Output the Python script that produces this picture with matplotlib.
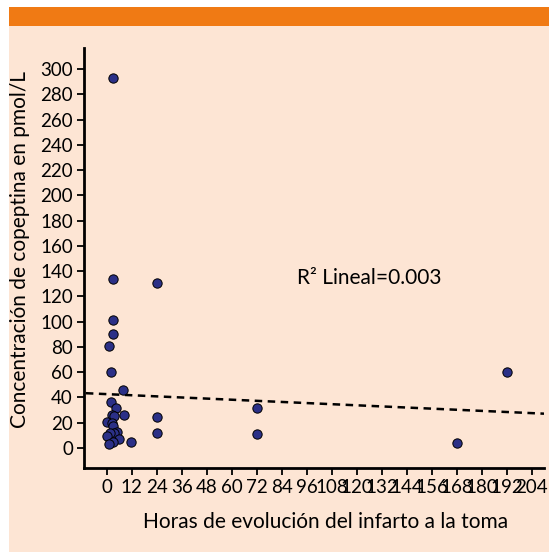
import matplotlib
matplotlib.use('Agg')
import matplotlib.pyplot as plt
from matplotlib.patches import Rectangle
import numpy as np

# horas de evolución vs copeptina (pmol/L)
horas = [3.2, 3.0, 24.0, 3.0, 3.0, 1.3, 1.9, 8.0, 2.0, 4.3, 8.3, 2.6, 3.5, 24.0,
         0.3, 2.5, 3.2, 5.1, 3.3, 1.6, 0.3, 6.0, 3.2, 1.1, 11.8, 24.0, 72.0, 72.0,
         168.0, 192.0]
copeptina = [292.6, 134.0, 131.0, 101.0, 90.0, 80.7, 60.4, 45.9, 36.7, 31.9, 26.1,
             26.5, 25.3, 24.8, 20.8, 20.0, 17.4, 12.9, 12.0, 11.6, 9.5, 6.9, 5.0,
             3.2, 4.5, 12.1, 31.9, 11.1, 4.2, 60.2]

# recta de ajuste lineal (extremos)
ajuste_x = [-10, 210]
ajuste_y = [43.4, 27.2]

xticks = list(range(0, 205, 12))
yticks = list(range(0, 301, 20))

CREMA = '#FDE5D4'
NARANJA = '#F07A14'
AZUL = '#2B3087'

plt.rcParams['font.family'] = ['Lato', 'DejaVu Sans']

fig = plt.figure(figsize=(5.49, 5.52), dpi=100)
fig.patch.set_facecolor('white')
fig.add_artist(Rectangle((9 / 549, 0), 1, 1 - 7 / 552, transform=fig.transFigure,
                         facecolor=CREMA, edgecolor='none', zorder=-10))
fig.add_artist(Rectangle((9 / 549, 1 - 26 / 552), 1, 19 / 552, transform=fig.transFigure,
                         facecolor=NARANJA, edgecolor='none', zorder=-9))

ax = fig.add_axes([84 / 549, 1 - 468 / 552, 460 / 549, 420 / 552])
ax.set_facecolor('none')

ax.plot(ajuste_x, ajuste_y, linestyle=(0, (3, 2.2)), color='black', linewidth=1.8, zorder=2)
ax.scatter(horas, copeptina, s=45, color=AZUL, edgecolor='black', linewidth=0.7, zorder=3)

ax.set_xlim(-10.9, 210)
ax.set_ylim(-15.8, 316.6)
ax.set_xticks(xticks)
ax.set_yticks(yticks)
ax.tick_params(direction='out', length=5, width=1.3, labelsize=13.5, colors='black', pad=3)
for s in ['top', 'right']:
    ax.spines[s].set_visible(False)
for s in ['left', 'bottom']:
    ax.spines[s].set_linewidth(2)

ax.text(213 / 460, 190 / 420, 'R² Lineal=0.003', transform=ax.transAxes,
        fontsize=15, va='center')

fig.text(326 / 549, 1 - 522 / 552, 'Horas de evolución del infarto a la toma',
         ha='center', va='center', fontsize=15)
fig.text(20 / 549, 1 - 250 / 552, 'Concentración de copeptina en pmol/L',
         ha='center', va='center', rotation=90, fontsize=15)

fig.savefig('out.png', dpi=100)
